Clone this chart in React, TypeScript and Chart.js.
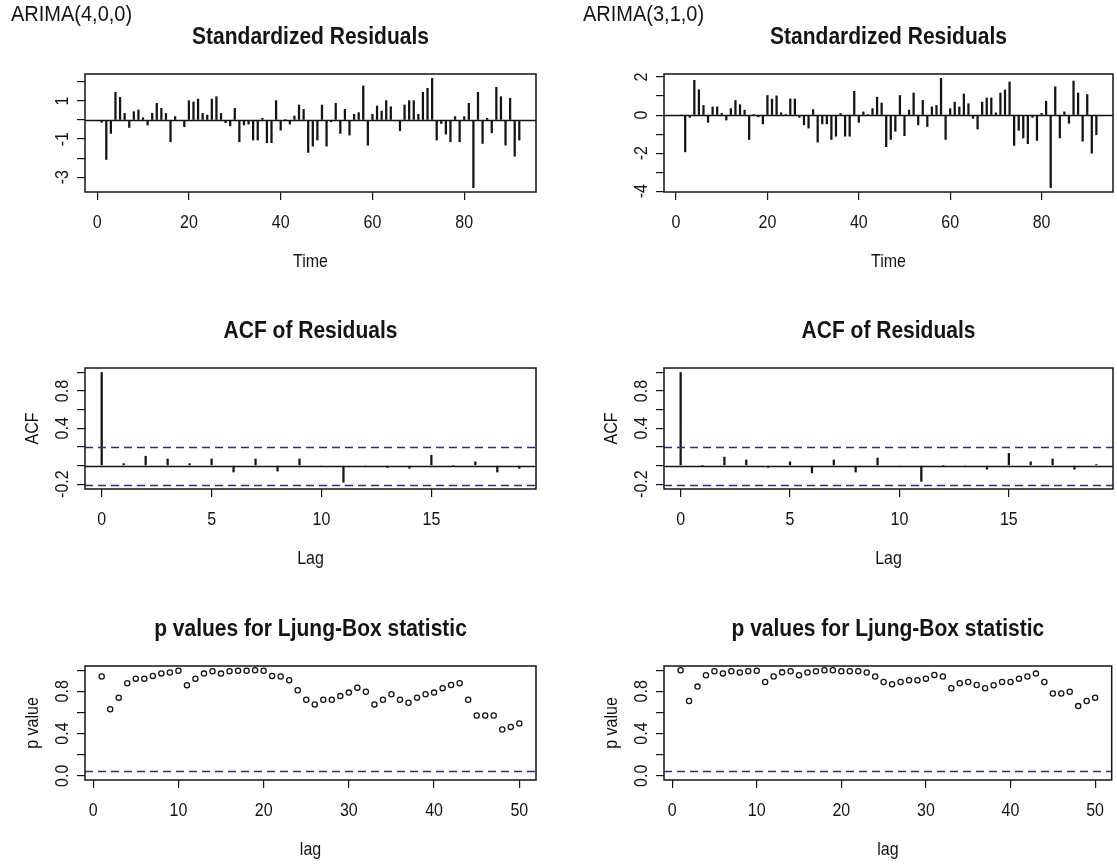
import React, { useEffect, useRef } from 'react';
import { Chart, registerables } from 'chart.js';

Chart.register(...registerables);

const PAGE_W = 1117;
const PAGE_H = 867;
const INK = '#141414';
const REF_BLUE = '#2e2e78';
const FONT = '"Liberation Sans", Arial, sans-serif';
const SY = 1.12;

// ---------------- data ----------------
const modelLabels = ['ARIMA(4,0,0)', 'ARIMA(3,1,0)'];

const timeIndex = [
  1, 2, 3, 4, 5, 6, 7, 8, 9, 10, 11, 12, 13, 14, 15, 16, 17, 18, 19, 20,
  21, 22, 23, 24, 25, 26, 27, 28, 29, 30, 31, 32, 33, 34, 35, 36, 37, 38, 39, 40,
  41, 42, 43, 44, 45, 46, 47, 48, 49, 50, 51, 52, 53, 54, 55, 56, 57, 58, 59, 60,
  61, 62, 63, 64, 65, 66, 67, 68, 69, 70, 71, 72, 73, 74, 75, 76, 77, 78, 79, 80,
  81, 82, 83, 84, 85, 86, 87, 88, 89, 90, 91, 92,
];

const residualsAR4 = [
  -0.12, -2.07, -0.7, 1.46, 1.19, 0.35, -0.39, 0.44, 0.53, 0.12,
  -0.26, 0.35, 0.88, 0.61, 0.35, -1.14, 0.18, -0.03, -0.35, 1.02,
  0.95, 1.1, 0.35, 0.26, 1.1, 1.23, 0.35, -0.14, -0.3, 0.61,
  -1.14, -0.26, -0.21, -1.05, -1.05, 0.09, -1.19, -1.19, 1.02, -0.53,
  0.03, -0.21, 0.21, 0.79, 0.56, -1.7, -1.37, -1.05, 0.79, -1.37,
  -0.09, 0.88, -0.7, 0.56, -0.79, 0.3, 0.39, 1.79, -1.32, 0.3,
  0.74, 0.47, 1.02, 0.7, -0.04, -0.56, 0.79, 1.02, 1.02, 0.3,
  1.46, 1.67, 2.19, -1.05, -0.18, -0.74, -1.14, 0.18, -1.14, 0.18,
  0.88, -3.55, 1.46, -1.23, 0.09, -0.67, 1.72, 1.23, -1.32, 1.14,
  -1.9, -1.05,
];

const residualsARI31 = [
  0.0, -1.93, -0.12, 1.83, 1.33, 0.51, -0.38, 0.43, 0.43, 0.09,
  -0.26, 0.34, 0.77, 0.55, 0.26, -1.28, 0.03, -0.09, -0.46, 1.03,
  0.84, 1.01, 0.12, 0.02, 0.85, 0.85, -0.12, -0.51, -0.68, 0.29,
  -1.42, -0.46, -0.46, -1.28, -1.11, 0.09, -1.11, -1.11, 1.25, -0.38,
  0.17, 0.03, 0.34, 0.94, 0.63, -1.66, -1.28, -0.85, 1.03, -1.08,
  0.26, 1.16, -0.51, 0.77, -0.6, 0.43, 0.51, 1.93, -1.28, 0.34,
  0.68, 0.43, 1.11, 0.6, -0.17, -0.73, 0.68, 0.9, 0.9, 0.12,
  1.16, 1.32, 1.74, -1.59, -0.8, -1.2, -1.5, -0.12, -1.33, 0.09,
  0.73, -3.81, 1.49, -1.2, 0.17, -0.43, 1.79, 1.16, -1.37, 1.08,
  -2.0, -1.03,
];

const acfLags = [0, 1, 2, 3, 4, 5, 6, 7, 8, 9, 10, 11, 12, 13, 14, 15, 16, 17, 18, 19];
const acfAR4 = [
  1.0, 0.02, 0.1, 0.07, 0.02, 0.07, -0.07, 0.07, -0.06, 0.07,
  -0.01, -0.18, -0.01, -0.02, -0.03, 0.11, 0.0, 0.04, -0.07, -0.03,
];
const acfARI31 = [
  1.0, 0.0, 0.09, 0.06, -0.02, 0.04, -0.08, 0.06, -0.07, 0.08,
  -0.01, -0.17, 0.0, -0.01, -0.04, 0.13, 0.04, 0.07, -0.04, 0.01,
];

const ljungLags = [
  1, 2, 3, 4, 5, 6, 7, 8, 9, 10, 11, 12, 13, 14, 15, 16, 17, 18, 19, 20,
  21, 22, 23, 24, 25, 26, 27, 28, 29, 30, 31, 32, 33, 34, 35, 36, 37, 38, 39, 40,
  41, 42, 43, 44, 45, 46, 47, 48, 49, 50,
];
const pvalAR4 = [
  0.94, 0.63, 0.74, 0.876, 0.92, 0.92, 0.946, 0.97, 0.978, 0.995,
  0.857, 0.92, 0.968, 0.99, 0.968, 0.99, 0.995, 0.995, 1.0, 0.995,
  0.946, 0.94, 0.905, 0.81, 0.72, 0.676, 0.72, 0.72, 0.755, 0.788,
  0.835, 0.796, 0.676, 0.72, 0.772, 0.72, 0.692, 0.74, 0.772, 0.788,
  0.83, 0.86, 0.876, 0.72, 0.571, 0.571, 0.571, 0.438, 0.463, 0.495,
];
const pvalARI31 = [
  1.0, 0.708, 0.845, 0.952, 0.99, 0.97, 0.99, 0.978, 0.99, 0.995,
  0.889, 0.94, 0.98, 0.99, 0.952, 0.978, 0.99, 1.0, 1.0, 0.99,
  0.99, 0.99, 0.978, 0.94, 0.889, 0.867, 0.889, 0.905, 0.905, 0.92,
  0.955, 0.94, 0.829, 0.876, 0.889, 0.86, 0.829, 0.857, 0.889, 0.889,
  0.92, 0.94, 0.968, 0.889, 0.78, 0.78, 0.796, 0.66, 0.708, 0.74,
];

const acfCiLevel = 0.2043;
const pvalThreshold = 0.05;

const residTicksX = [0, 20, 40, 60, 80];
const residTicksY_AR4 = [-3, -2, -1, 0, 1, 2];
const residTickLabelsY_AR4 = ['-3', '', '-1', '', '1', ''];
const residTicksY_ARI31 = [-4, -3, -2, -1, 0, 1, 2];
const residTickLabelsY_ARI31 = ['-4', '', '-2', '', '0', '', '2'];
const acfTicksX = [0, 5, 10, 15];
const acfTicksY = [-0.2, 0, 0.2, 0.4, 0.6, 0.8, 1.0];
const acfTickLabelsY = ['-0.2', '', '', '0.4', '', '0.8', ''];
const pvalTicksX = [0, 10, 20, 30, 40, 50];
const pvalTicksY = [0, 0.2, 0.4, 0.6, 0.8, 1.0];
const pvalTickLabelsY = ['0.0', '', '0.4', '', '0.8', ''];

const titles = ['Standardized Residuals', 'ACF of Residuals', 'p values for Ljung-Box statistic'];

// ---------------- layout ----------------
const COLS = [
  { l: 85, r: 536, label: 11 },
  { l: 664, r: 1113, label: 583 },
];
const ROWS = [
  { t: 74, b: 192 },
  { t: 368, b: 489 },
  { t: 666, b: 780 },
];

// R style axis range: data range widened by 4% on each side
const rRange = (vals: number[]): [number, number] => {
  const lo = Math.min(...vals);
  const hi = Math.max(...vals);
  const d = (hi - lo) * 0.04;
  return [lo - d, hi + d];
};

type HLine = { value: number; dashed: boolean; color: string };
type Spec = {
  box: [number, number, number, number];
  kind: 'h' | 'points';
  xs: number[];
  ys: number[];
  xRange: [number, number];
  yRange: [number, number];
  xTicks: number[];
  xTickLabels: string[];
  yTicks: number[];
  yTickLabels: string[];
  title: string;
  xTitle: string;
  yTitle: string;
  topLabel?: string;
  topLabelX?: number;
  hLines: HLine[];
};

function drawText(
  ctx: CanvasRenderingContext2D,
  s: string,
  x: number,
  y: number,
  size: number,
  opts: { bold?: boolean; align?: CanvasTextAlign; rot?: number; color?: string } = {}
) {
  ctx.save();
  ctx.translate(x, y);
  if (opts.rot) ctx.rotate(opts.rot);
  ctx.scale(1, SY);
  ctx.font = `${opts.bold ? 'bold ' : ''}${size}px ${FONT}`;
  ctx.textAlign = opts.align || 'center';
  ctx.textBaseline = 'middle';
  ctx.fillStyle = opts.color || INK;
  ctx.fillText(s, 0, 0);
  ctx.restore();
}

const decorPlugin = (spec: Spec) => ({
  id: 'rdecor',
  afterDatasetsDraw(chart: any) {
    const { ctx, chartArea: a } = chart;
    const y = chart.scales.y;
    ctx.save();
    for (const h of spec.hLines) {
      const py = Math.round(y.getPixelForValue(h.value)) + 0.5;
      ctx.beginPath();
      ctx.setLineDash(h.dashed ? [8, 5] : []);
      ctx.strokeStyle = h.color;
      ctx.lineWidth = 1.3;
      ctx.moveTo(a.left, py);
      ctx.lineTo(a.right, py);
      ctx.stroke();
    }
    ctx.restore();
  },
  afterDraw(chart: any) {
    const { ctx, chartArea: a } = chart;
    const x = chart.scales.x;
    const y = chart.scales.y;
    ctx.save();
    ctx.setLineDash([]);
    ctx.strokeStyle = INK;
    ctx.lineWidth = 1.5;
    ctx.strokeRect(a.left, a.top, a.right - a.left, a.bottom - a.top);
    ctx.restore();

    x.ticks.forEach((t: any, i: number) => {
      const lab = spec.xTickLabels[i];
      if (lab) drawText(ctx, lab, x.getPixelForValue(t.value), a.bottom + 31, 16);
    });
    y.ticks.forEach((t: any, i: number) => {
      const lab = spec.yTickLabels[i];
      if (lab) drawText(ctx, lab, a.left - 22, y.getPixelForValue(t.value), 16, { rot: -Math.PI / 2 });
    });
    const cx = (a.left + a.right) / 2;
    const cy = (a.top + a.bottom) / 2;
    if (spec.xTitle) drawText(ctx, spec.xTitle, cx, a.bottom + 70, 16);
    if (spec.yTitle) drawText(ctx, spec.yTitle, a.left - 52, cy, 16, { rot: -Math.PI / 2 });
    drawText(ctx, spec.title, cx, a.top - 36, 21, { bold: true });
    if (spec.topLabel) drawText(ctx, spec.topLabel, spec.topLabelX || 0, 15, 20, { align: 'left' });
  },
});

function makeConfig(spec: Spec): any {
  const AX = 40;
  const [l, t, r, b] = spec.box;
  const data = spec.xs.map((xv, i) => ({ x: xv, y: spec.ys[i] }));
  const isBars = spec.kind === 'h';
  const dataset: any = isBars
    ? { data, backgroundColor: INK, borderWidth: 0, barThickness: 1.6, minBarLength: 0 }
    : {
        data,
        borderColor: INK,
        backgroundColor: 'rgba(0,0,0,0)',
        pointRadius: 2.6,
        pointBorderWidth: 1.3,
        pointStyle: 'circle',
        showLine: false,
      };
  const axis = (ticks: number[]) => ({
    type: 'linear',
    bounds: 'data',
    offset: false,
    grid: {
      display: true,
      offset: false,
      drawOnChartArea: false,
      drawTicks: true,
      tickLength: 8,
      color: INK,
      lineWidth: 1.2,
    },
    border: { display: false },
    ticks: { display: false },
    afterBuildTicks: (s: any) => {
      s.ticks = ticks.map((v) => ({ value: v }));
    },
  });
  return {
    type: isBars ? 'bar' : 'scatter',
    data: { datasets: [dataset] },
    options: {
      animation: false,
      responsive: false,
      maintainAspectRatio: false,
      devicePixelRatio: 1,
      events: [],
      layout: { padding: { left: l - AX, top: t, right: PAGE_W - r, bottom: PAGE_H - b - AX } },
      plugins: { legend: { display: false }, tooltip: { enabled: false }, title: { display: false } },
      scales: {
        x: {
          ...axis(spec.xTicks),
          position: 'bottom',
          min: spec.xRange[0],
          max: spec.xRange[1],
          afterFit: (s: any) => {
            s.height = AX;
          },
        },
        y: {
          ...axis(spec.yTicks),
          position: 'left',
          min: spec.yRange[0],
          max: spec.yRange[1],
          afterFit: (s: any) => {
            s.width = AX;
          },
        },
      },
    },
    plugins: [decorPlugin(spec)],
  };
}

function buildSpecs(): Spec[] {
  const specs: Spec[] = [];
  const models = [
    {
      resid: residualsAR4,
      residTicks: residTicksY_AR4,
      residLabels: residTickLabelsY_AR4,
      acf: acfAR4,
      pval: pvalAR4,
    },
    {
      resid: residualsARI31,
      residTicks: residTicksY_ARI31,
      residLabels: residTickLabelsY_ARI31,
      acf: acfARI31,
      pval: pvalARI31,
    },
  ];
  models.forEach((m, c) => {
    const col = COLS[c];
    specs.push({
      box: [col.l, ROWS[0].t, col.r, ROWS[0].b],
      kind: 'h',
      xs: timeIndex,
      ys: m.resid,
      xRange: rRange(timeIndex),
      yRange: rRange(m.resid),
      xTicks: residTicksX,
      xTickLabels: residTicksX.map(String),
      yTicks: m.residTicks,
      yTickLabels: m.residLabels,
      title: titles[0],
      xTitle: 'Time',
      yTitle: '',
      topLabel: modelLabels[c],
      topLabelX: col.label,
      hLines: [{ value: 0, dashed: false, color: INK }],
    });
    specs.push({
      box: [col.l, ROWS[1].t, col.r, ROWS[1].b],
      kind: 'h',
      xs: acfLags,
      ys: m.acf,
      xRange: rRange(acfLags),
      yRange: rRange([...m.acf, -acfCiLevel, acfCiLevel]),
      xTicks: acfTicksX,
      xTickLabels: acfTicksX.map(String),
      yTicks: acfTicksY,
      yTickLabels: acfTickLabelsY,
      title: titles[1],
      xTitle: 'Lag',
      yTitle: 'ACF',
      hLines: [
        { value: 0, dashed: false, color: INK },
        { value: acfCiLevel, dashed: true, color: REF_BLUE },
        { value: -acfCiLevel, dashed: true, color: REF_BLUE },
      ],
    });
    specs.push({
      box: [col.l, ROWS[2].t, col.r, ROWS[2].b],
      kind: 'points',
      xs: ljungLags,
      ys: m.pval,
      xRange: rRange(ljungLags),
      yRange: rRange([0, 1]),
      xTicks: pvalTicksX,
      xTickLabels: pvalTicksX.map(String),
      yTicks: pvalTicksY,
      yTickLabels: pvalTickLabelsY,
      title: titles[2],
      xTitle: 'lag',
      yTitle: 'p value',
      hLines: [{ value: pvalThreshold, dashed: true, color: REF_BLUE }],
    });
  });
  return specs;
}

function Panel({ spec }: { spec: Spec }) {
  const ref = useRef<HTMLCanvasElement | null>(null);
  useEffect(() => {
    if (!ref.current) return;
    const chart = new Chart(ref.current, makeConfig(spec));
    return () => chart.destroy();
  }, [spec]);
  return (
    <canvas
      ref={ref}
      width={PAGE_W}
      height={PAGE_H}
      style={{ position: 'absolute', left: 0, top: 0, width: PAGE_W, height: PAGE_H }}
    />
  );
}

const SPECS = buildSpecs();

export default function App() {
  return (
    <div
      style={{
        position: 'absolute',
        left: 0,
        top: 0,
        width: PAGE_W,
        height: PAGE_H,
        background: '#ffffff',
        overflow: 'hidden',
      }}
    >
      {SPECS.map((s, i) => (
        <Panel key={i} spec={s} />
      ))}
    </div>
  );
}
